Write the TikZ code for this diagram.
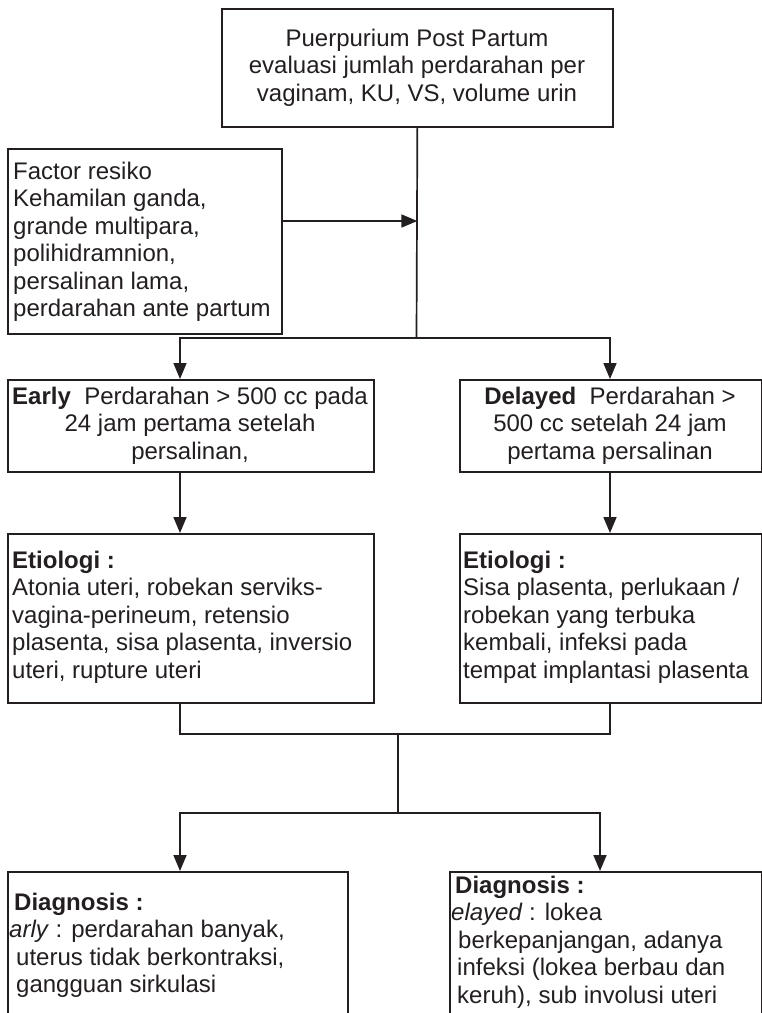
\documentclass[tikz,border=0pt]{standalone}
\usepackage{fontspec}
\setmainfont{Liberation Sans}
\usetikzlibrary{arrows.meta}
\definecolor{ink}{HTML}{231F20}
% invisible strut that fixes the height of a block's first line
\newcommand{\firstline}{\rule{0pt}{18pt}}
\begin{document}
\begin{tikzpicture}[x=1pt,y=-1pt,
  box/.style={draw=ink, line width=1.7pt, anchor=north west, inner sep=0pt},
  txt/.style={inner sep=0pt, text=ink, font=\fontsize{24}{27.5}\selectfont},
  link/.style={draw=ink, line width=1.7pt, line join=miter},
  arr/.style={link, -{Triangle[length=16pt,width=13pt]}},
  arrboth/.style={link, {Triangle[length=16pt,width=13pt]}-{Triangle[length=16pt,width=13pt]}}]
\useasboundingbox (0,0) rectangle (762,1013);
\clip (0,0) rectangle (762,1013);
\fill[white] (0,0) rectangle (762,1013);

% boxes
\node[box, minimum width=391pt, minimum height=118pt] (top) at (221,8) {};
\node[box, minimum width=274pt, minimum height=185pt] (factor) at (7,148) {};
\node[box, minimum width=366pt, minimum height=92pt] (early) at (7,379) {};
\node[box, minimum width=302pt, minimum height=92pt] (delayed) at (459,379) {};
\node[box, minimum width=366pt, minimum height=169pt] (etioA) at (7,533) {};
\node[box, minimum width=302pt, minimum height=169pt] (etioB) at (459,533) {};
\node[box, minimum width=340pt, minimum height=180pt] (diagA) at (7,871) {};
\node[box, minimum width=312pt, minimum height=180pt] (diagB) at (449,871) {};

% texts
\node[txt, anchor=north, align=center] (topT) at (417,28)
  {\firstline Puerpurium Post Partum\\evaluasi jumlah perdarahan per\\vaginam, KU, VS, volume urin};
\node[txt, anchor=north west, align=left] (factorT) at (13,161)
  {\firstline Factor resiko\\Kehamilan ganda,\\grande multipara,\\polihidramnion,\\persalinan lama,\\perdarahan ante partum};
\node[txt, anchor=north, align=center] (earlyT) at (190,386)
  {\firstline\textbf{Early}\ \ Perdarahan > 500 cc pada\\24 jam pertama setelah\\persalinan,};
\node[txt, anchor=north, align=center] (delayedT) at (610,386)
  {\firstline\textbf{Delayed}\ \ Perdarahan >\\500 cc setelah 24 jam\\pertama persalinan};
\node[txt, anchor=north west, align=left] (etioAT) at (12,550)
  {\firstline\textbf{Etiologi :}\\Atonia uteri, robekan serviks-\\vagina-perineum, retensio\\plasenta, sisa plasenta, inversio\\uteri, rupture uteri};
\node[txt, anchor=north west, align=left] (etioBT) at (463,550)
  {\firstline\textbf{Etiologi :}\\Sisa plasenta, perlukaan /\\robekan yang terbuka\\kembali, infeksi pada\\tempat implantasi plasenta};
\node[txt, anchor=north west, align=left] (diagAT) at (9,892)
  {\firstline\hspace*{5pt}\textbf{Diagnosis :}\\\textit{arly} : perdarahan banyak,\\\hspace*{7pt}uterus tidak berkontraksi,\\\hspace*{7pt}gangguan sirkulasi};
\node[txt, anchor=north west, align=left] (diagBT) at (451,875)
  {\firstline\hspace*{4pt}\textbf{Diagnosis :}\\\textit{elayed} : lokea\\\hspace*{7pt}berkepanjangan, adanya\\\hspace*{6pt}infeksi (lokea berbau dan\\\hspace*{6pt}keruh), sub involusi uteri};

% junction points
\coordinate (fOut) at (281,221);
\coordinate (jTop) at (416.5,338);
\coordinate (jL) at (180,338);
\coordinate (jR) at (610,338);
\coordinate (mL) at (180,734);
\coordinate (mR) at (610,734);
\coordinate (mC) at (398,734);
\coordinate (sC) at (398,813);
\coordinate (sL) at (180,813);
\coordinate (sR) at (600,813);

% connectors
\draw[arr] (fOut) -- (fOut -| top.south);
\draw[link] (top.south) -- (jTop);
\draw[arrboth] (jL |- early.north) -- (jL) -- (jR) -- (jR |- delayed.north);
\draw[arr] (early.south -| jL) -- (etioA.north -| jL);
\draw[arr] (delayed.south -| jR) -- (etioB.north -| jR);
\draw[link] (etioA.south -| mL) -- (mL) -- (mR) -- (etioB.south -| mR);
\draw[link] (mC) -- (sC);
\draw[arrboth] (sL |- diagA.north) -- (sL) -- (sR) -- (sR |- diagB.north);
\end{tikzpicture}
\end{document}
